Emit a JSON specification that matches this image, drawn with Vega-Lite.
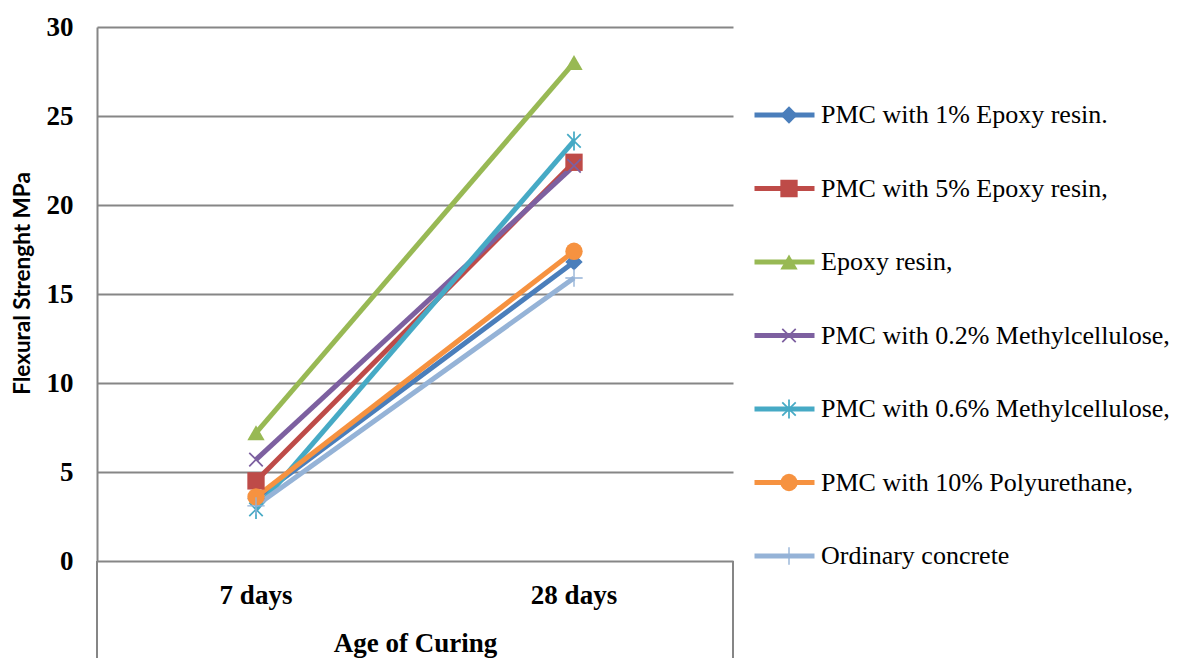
{
  "$schema": "https://vega.github.io/schema/vega-lite/v6.json",
  "width": 636,
  "height": 534,
  "autosize": {"type": "none"},
  "padding": {"left": 97, "top": 27, "right": 448, "bottom": 97},
  "background": "white",
  "config": {"view": {"stroke": null}},
  "data": {
    "values": [
      {"series": "PMC with 1% Epoxy resin.", "age": "7 days", "value": 3.5},
      {"series": "PMC with 1% Epoxy resin.", "age": "28 days", "value": 16.8},
      {"series": "PMC with 5% Epoxy resin,", "age": "7 days", "value": 4.5},
      {"series": "PMC with 5% Epoxy resin,", "age": "28 days", "value": 22.4},
      {"series": "Epoxy resin,", "age": "7 days", "value": 7.2},
      {"series": "Epoxy resin,", "age": "28 days", "value": 28.0},
      {"series": "PMC with 0.2% Methylcellulose,", "age": "7 days", "value": 5.7},
      {"series": "PMC with 0.2% Methylcellulose,", "age": "28 days", "value": 22.2},
      {"series": "PMC with 0.6% Methylcellulose,", "age": "7 days", "value": 2.9},
      {"series": "PMC with 0.6% Methylcellulose,", "age": "28 days", "value": 23.6},
      {"series": "PMC with 10% Polyurethane,", "age": "7 days", "value": 3.6},
      {"series": "PMC with 10% Polyurethane,", "age": "28 days", "value": 17.4},
      {"series": "Ordinary concrete", "age": "7 days", "value": 3.1},
      {"series": "Ordinary concrete", "age": "28 days", "value": 15.9}
    ]
  },
  "layer": [
    {
      "mark": {"type": "line", "strokeWidth": 5},
      "encoding": {
        "x": {
          "field": "age", "type": "nominal",
          "scale": {"domain": ["7 days", "28 days"], "paddingInner": 0, "paddingOuter": 0},
          "axis": {
            "domain": false, "ticks": false, "tickSize": 0, "labelAngle": 0,
            "labelFont": "Liberation Serif", "labelFontWeight": "bold", "labelFontSize": 27, "labelColor": "black",
            "labelBaseline": "alphabetic", "labelPadding": 42,
            "title": "Age of Curing", "titleFont": "Liberation Serif", "titleFontWeight": "bold", "titleFontSize": 27,
            "titleColor": "black", "titleBaseline": "alphabetic", "titleX": 318, "titleY": 90, "titleAlign": "center"
          }
        },
        "y": {
          "field": "value", "type": "quantitative",
          "scale": {"domain": [0, 30], "nice": false, "zero": false},
          "axis": {
            "values": [0, 5, 10, 15, 20, 25, 30],
            "grid": true, "gridColor": "#868686", "gridWidth": 2,
            "domainColor": "#868686", "domainWidth": 2,
            "ticks": false, "tickSize": 0,
            "labelFont": "Liberation Serif", "labelFontWeight": "bold", "labelFontSize": 27, "labelColor": "black",
            "labelPadding": 24,
            "title": "Flexural Strenght MPa", "titleFont": "Lato", "titleFontWeight": "bold", "titleFontSize": 22.5,
            "titleColor": "black", "titleAngle": -90, "titleX": -75, "titleY": 256, "titleAlign": "center", "titleBaseline": "middle"
          }
        },
        "color": {
          "field": "series", "type": "nominal",
          "scale": {
            "domain": ["PMC with 1% Epoxy resin.", "PMC with 5% Epoxy resin,", "Epoxy resin,", "PMC with 0.2% Methylcellulose,", "PMC with 0.6% Methylcellulose,", "PMC with 10% Polyurethane,", "Ordinary concrete"],
            "range": ["#4A7EBB", "#BE4B48", "#98B954", "#7D60A0", "#46AAC5", "#F69240", "#95B3D7"]
          },
          "legend": {
            "orient": "none", "legendX": 655, "legendY": 73, "direction": "vertical", "title": null,
            "symbolType": "stroke", "symbolSize": 3600, "symbolStrokeWidth": 5,
            "labelFont": "Liberation Serif", "labelFontSize": 26, "labelColor": "black", "labelLimit": 600,
            "labelOffset": 4, "clipHeight": 30, "rowPadding": 43.5, "padding": 0
          }
        }
      }
    },
    {
      "mark": {"type": "point", "filled": true, "size": 300, "strokeWidth": 0, "opacity": 1},
      "encoding": {
        "x": {"field": "age", "type": "nominal"},
        "y": {"field": "value", "type": "quantitative"},
        "color": {
          "field": "series", "type": "nominal",
          "legend": {
            "orient": "none", "legendX": 679, "legendY": 73, "direction": "vertical", "title": null,
            "symbolSize": 300, "symbolStrokeWidth": 0,
            "labelExpr": "''", "labelFontSize": 26, "labelLimit": 600,
            "clipHeight": 30, "rowPadding": 43.5, "padding": 0
          }
        },
        "shape": {
          "field": "series", "type": "nominal",
          "scale": {
            "domain": ["PMC with 1% Epoxy resin.", "PMC with 5% Epoxy resin,", "Epoxy resin,", "PMC with 0.2% Methylcellulose,", "PMC with 0.6% Methylcellulose,", "PMC with 10% Polyurethane,", "Ordinary concrete"],
            "range": [
              "diamond",
              "square",
              "triangle-up",
              "M0.707,-0.849L0.849,-0.707L0.141,0L0.849,0.707L0.707,0.849L0,0.141L-0.707,0.849L-0.849,0.707L-0.141,0L-0.849,-0.707L-0.707,-0.849L0,-0.141Z",
              "M0.707,-0.849L0.849,-0.707L0.141,0L0.849,0.707L0.707,0.849L0,0.141L-0.707,0.849L-0.849,0.707L-0.141,0L-0.849,-0.707L-0.707,-0.849L0,-0.141ZM-0.1,-1.1L0.1,-1.1L0.1,1.1L-0.1,1.1Z",
              "circle",
              "M-0.08,-1L0.08,-1L0.08,-0.08L1,-0.08L1,0.08L0.08,0.08L0.08,1L-0.08,1L-0.08,0.08L-1,0.08L-1,-0.08L-0.08,-0.08Z"
            ]
          },
          "legend": {
            "orient": "none", "legendX": 679, "legendY": 73, "direction": "vertical", "title": null,
            "symbolSize": 300, "symbolStrokeWidth": 0,
            "labelExpr": "''", "labelFontSize": 26, "labelLimit": 600,
            "clipHeight": 30, "rowPadding": 43.5, "padding": 0
          }
        }
      }
    },
    {
      "data": {"values": [{}]},
      "mark": {"type": "rule", "color": "#868686", "strokeWidth": 2},
      "encoding": {
        "x": {"datum": "7 days", "type": "nominal", "bandPosition": 0},
        "y": {"datum": 0, "type": "quantitative"},
        "y2": {"datum": -5.45}
      }
    },
    {
      "data": {"values": [{}]},
      "mark": {"type": "rule", "color": "#868686", "strokeWidth": 2},
      "encoding": {
        "x": {"datum": "28 days", "type": "nominal", "bandPosition": 1},
        "y": {"datum": 0, "type": "quantitative"},
        "y2": {"datum": -5.45}
      }
    }
  ],
  "resolve": {"legend": {"color": "independent", "shape": "independent"}}
}
